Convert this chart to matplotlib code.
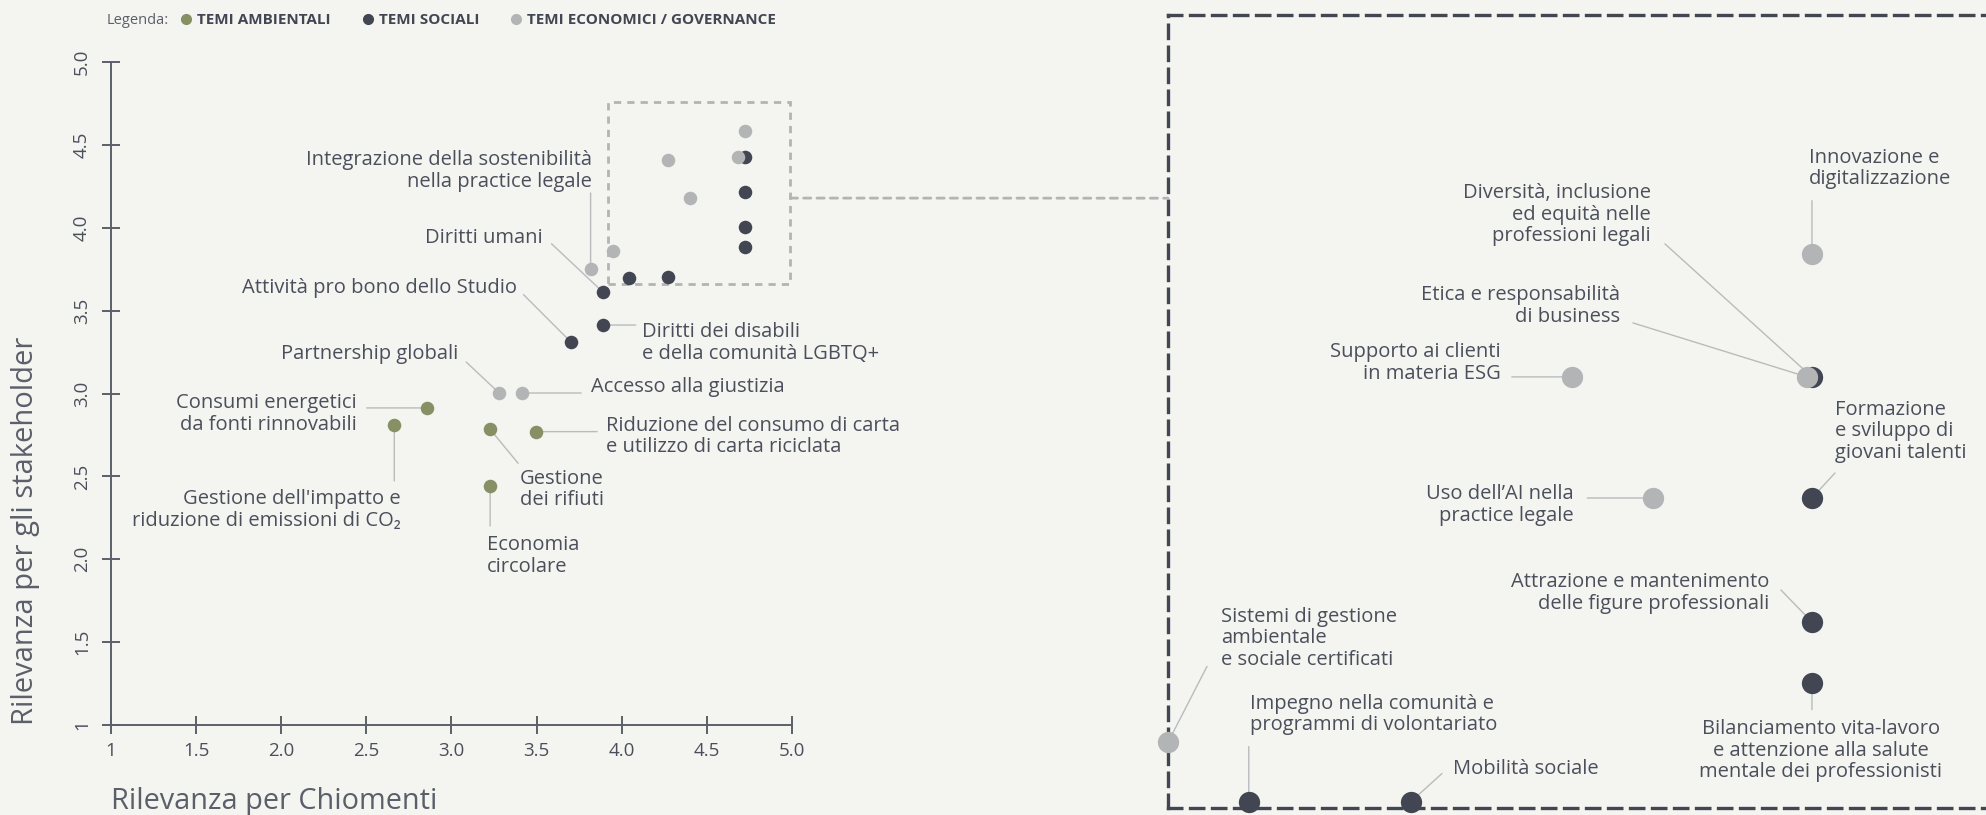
import matplotlib
matplotlib.use('Agg')
import matplotlib.pyplot as plt
from matplotlib.lines import Line2D
from matplotlib.patches import Rectangle, ConnectionPatch

FONT = ['Open Sans', 'DejaVu Sans']
plt.rcParams['font.family'] = FONT

# colours
bg = '#f4f4f0'
c_env = '#878f64'
c_soc = '#414652'
c_eco = '#b2b4b6'
c_txt = '#4a4f5b'
c_lead = '#b9bbbd'
c_axis = '#5a5f69'

# ---- main matrix data ----
env_x = [2.854, 2.664, 3.227, 3.497, 3.227]
env_y = [2.913, 2.810, 2.784, 2.770, 2.442]
soc_x = [3.699, 3.888, 3.887, 4.043, 4.269, 4.723, 4.723, 4.723, 4.725]
soc_y = [3.313, 3.413, 3.614, 3.699, 3.705, 3.886, 4.003, 4.218, 4.429]
eco_x = [3.280, 3.415, 3.817, 3.950, 4.402, 4.269, 4.680, 4.723]
eco_y = [3.003, 3.003, 3.751, 3.862, 4.178, 4.409, 4.429, 4.584]

ticks = [1, 1.5, 2.0, 2.5, 3.0, 3.5, 4.0, 4.5, 5.0]
tick_labels = ['1', '1.5', '2.0', '2.5', '3.0', '3.5', '4.0', '4.5', '5.0']

# zoom box on the main matrix
box_x = [3.92, 4.99]
box_y = [3.66, 4.76]

# ---- zoomed detail data ----
zoom_eco_x = [4.813, 4.806, 4.480, 4.593, 3.920]
zoom_eco_y = [4.429, 4.258, 4.258, 4.090, 3.751]
zoom_soc_x = [4.813, 4.813, 4.813, 4.813, 4.032, 4.257]
zoom_soc_y = [4.258, 4.090, 3.918, 3.834, 3.669, 3.669]

legend_labels = ['TEMI AMBIENTALI', 'TEMI SOCIALI', 'TEMI ECONOMICI / GOVERNANCE']

# labels: (text, series, index, text offset px, ha, leader start offset px)
main_labels = [
    ('Integrazione della sostenibilità\nnella practice legale', 'eco', 2, (1, 98), 'right', (0, 76)),
    ('Diritti umani', 'soc', 2, (-60, 54), 'right', (-51, 48)),
    ('Attività pro bono dello Studio', 'soc', 0, (-54, 54), 'right', (-47, 47)),
    ('Diritti dei disabili\ne della comunità LGBTQ+', 'soc', 1, (39, -18), 'left', (33, 0)),
    ('Partnership globali', 'eco', 0, (-41, 39), 'right', (-33, 31)),
    ('Accesso alla giustizia', 'eco', 1, (69, 6), 'left', (59, 0)),
    ('Consumi energetici\nda fonti rinnovabili', 'env', 0, (-70, -6), 'right', (-60, 0)),
    ('Gestione dell\'impatto e\nriduzione di emissioni di CO\u2082', 'env', 1, (6, -85), 'right', (0, -56)),
    ('Riduzione del consumo di carta\ne utilizzo di carta riciclata', 'env', 3, (70, -5), 'left', (61, 0)),
    ('Gestione\ndei rifiuti', 'env', 2, (30, -60), 'left', (28, -34)),
    ('Economia\ncircolare', 'env', 4, (-3, -70), 'left', (0, -40)),
]

zoom_labels = [
    ('Innovazione e\ndigitalizzazione', 'eco', 0, (-3, 85), 'left', (0, 53)),
    ('Diversità, inclusione\ned equità nelle\nprofessioni legali', 'soc', 0, (-161, 162), 'right', (-147, 133)),
    ('Etica e responsabilità\ndi business', 'eco', 1, (-187, 71), 'right', (-174, 54)),
    ('Supporto ai clienti\nin materia ESG', 'eco', 2, (-71, 14), 'right', (-60, 0)),
    ('Formazione\ne sviluppo di\ngiovani talenti', 'soc', 1, (23, 67), 'left', (23, 25)),
    ('Uso dell\u2019AI nella\npractice legale', 'eco', 3, (-80, -7), 'right', (-66, 0)),
    ('Attrazione e mantenimento\ndelle figure professionali', 'soc', 2, (-43, 29), 'right', (-31, 32)),
    ('Bilanciamento vita-lavoro\ne attenzione alla salute\nmentale dei professionisti', 'soc', 3, (9, -68), 'center', (0, -27)),
    ('Sistemi di gestione\nambientale\ne sociale certificati', 'eco', 4, (53, 104), 'left', (39, 76)),
    ('Impegno nella comunità e\nprogrammi di volontariato', 'soc', 4, (1, 87), 'left', (0, 55)),
    ('Mobilità sociale', 'soc', 5, (42, 33), 'left', (31, 28)),
]


def add_labels(ax, specs, series):
    for text, key, i, (dx, dy), ha, (lx, ly) in specs:
        xs, ys = series[key]
        x, y = xs[i], ys[i]
        ax.annotate('', (x, y), xytext=(lx, ly), textcoords='offset pixels',
                    arrowprops=dict(arrowstyle='-', color=c_lead, lw=1.0,
                                    shrinkA=0, shrinkB=0),
                    zorder=1, annotation_clip=False)
        ax.annotate(text, (x, y), xytext=(dx, dy), textcoords='offset pixels',
                    ha=ha, va='center', multialignment=ha, fontsize=14.5,
                    color=c_txt, linespacing=1.1, zorder=5,
                    annotation_clip=False)


fig = plt.figure(figsize=(19.86, 8.15), dpi=100, facecolor=bg)

# ---- left: full matrix ----
ax = fig.add_axes([111 / 1986, 90 / 815, 681 / 1986, 663 / 815])
ax.set_facecolor('none')
ax.set_xlim(1, 5)
ax.set_ylim(1, 5)
for s in ['top', 'right']:
    ax.spines[s].set_visible(False)
for s in ['left', 'bottom']:
    ax.spines[s].set_color(c_axis)
    ax.spines[s].set_linewidth(1.4)
ax.set_xticks(ticks)
ax.set_xticklabels(tick_labels)
ax.set_yticks(ticks)
ax.set_yticklabels(tick_labels, rotation=90, va='center')
ax.tick_params(direction='inout', length=13, width=1.4, color=c_axis,
               labelcolor=c_txt, labelsize=13.5)
ax.tick_params(axis='x', pad=6)
ax.tick_params(axis='y', pad=8)

ax.scatter(soc_x, soc_y, s=95, color=c_soc, lw=0, zorder=3)
ax.scatter(eco_x, eco_y, s=95, color=c_eco, lw=0, zorder=3)
ax.scatter(env_x, env_y, s=95, color=c_env, lw=0, zorder=3)

ax.add_patch(Rectangle((box_x[0], box_y[0]), box_x[1] - box_x[0], box_y[1] - box_y[0],
                       fill=False, ec=c_eco, lw=2.0, ls=(0, (2.6, 2.2)), zorder=2,
                       clip_on=False))

add_labels(ax, main_labels, {'env': (env_x, env_y), 'soc': (soc_x, soc_y),
                             'eco': (eco_x, eco_y)})

fig.text(26 / 1986, 90 / 815, 'Rilevanza per gli stakeholder', rotation=90,
         ha='center', va='bottom', fontsize=21, color=c_axis)
fig.text(111 / 1986, 13 / 815, 'Rilevanza per Chiomenti', ha='left', va='center',
         fontsize=20.8, color=c_axis)

# ---- right: zoomed detail ----
ax2 = fig.add_axes([1168 / 1986, 7 / 815, 830 / 1986, 793 / 815])
ax2.set_facecolor('none')
ax2.set_xlim(3.92, 5.071)
ax2.set_ylim(3.66, 4.76)
ax2.set_xticks([])
ax2.set_yticks([])
ax2.spines['right'].set_visible(False)
for s in ['left', 'top', 'bottom']:
    ax2.spines[s].set_color(c_soc)
    ax2.spines[s].set_linewidth(2.4)
    ax2.spines[s].set_linestyle((0, (4, 2.6)))

ax2.scatter(zoom_soc_x, zoom_soc_y, s=235, color=c_soc, lw=0, zorder=3, clip_on=False)
ax2.scatter(zoom_eco_x, zoom_eco_y, s=235, color=c_eco, lw=0, zorder=3, clip_on=False)

add_labels(ax2, zoom_labels, {'soc': (zoom_soc_x, zoom_soc_y),
                              'eco': (zoom_eco_x, zoom_eco_y)})

con = ConnectionPatch(xyA=(box_x[1], 4.179), coordsA=ax.transData,
                      xyB=(0, 0.769), coordsB=ax2.transAxes,
                      color=c_eco, lw=2.0, ls=(0, (2.6, 2.2)))
fig.add_artist(con)

# ---- legend ----
fig.text(107 / 1986, 795 / 815, 'Legenda:', ha='left', va='center', fontsize=10.5,
         color=c_axis)
handles = [Line2D([], [], marker='o', ls='', color=c, markersize=7)
           for c in [c_env, c_soc, c_eco]]
fig.legend(handles, legend_labels, ncol=3, loc='center left',
           bbox_to_anchor=(180 / 1986, 795 / 815), frameon=False,
           handlelength=0.8, handletextpad=0.3, columnspacing=2.05,
           borderpad=0, borderaxespad=0,
           prop={'family': FONT, 'weight': 'bold', 'size': 11}, labelcolor=c_soc)

fig.savefig('out.png', dpi=100, facecolor=bg)
